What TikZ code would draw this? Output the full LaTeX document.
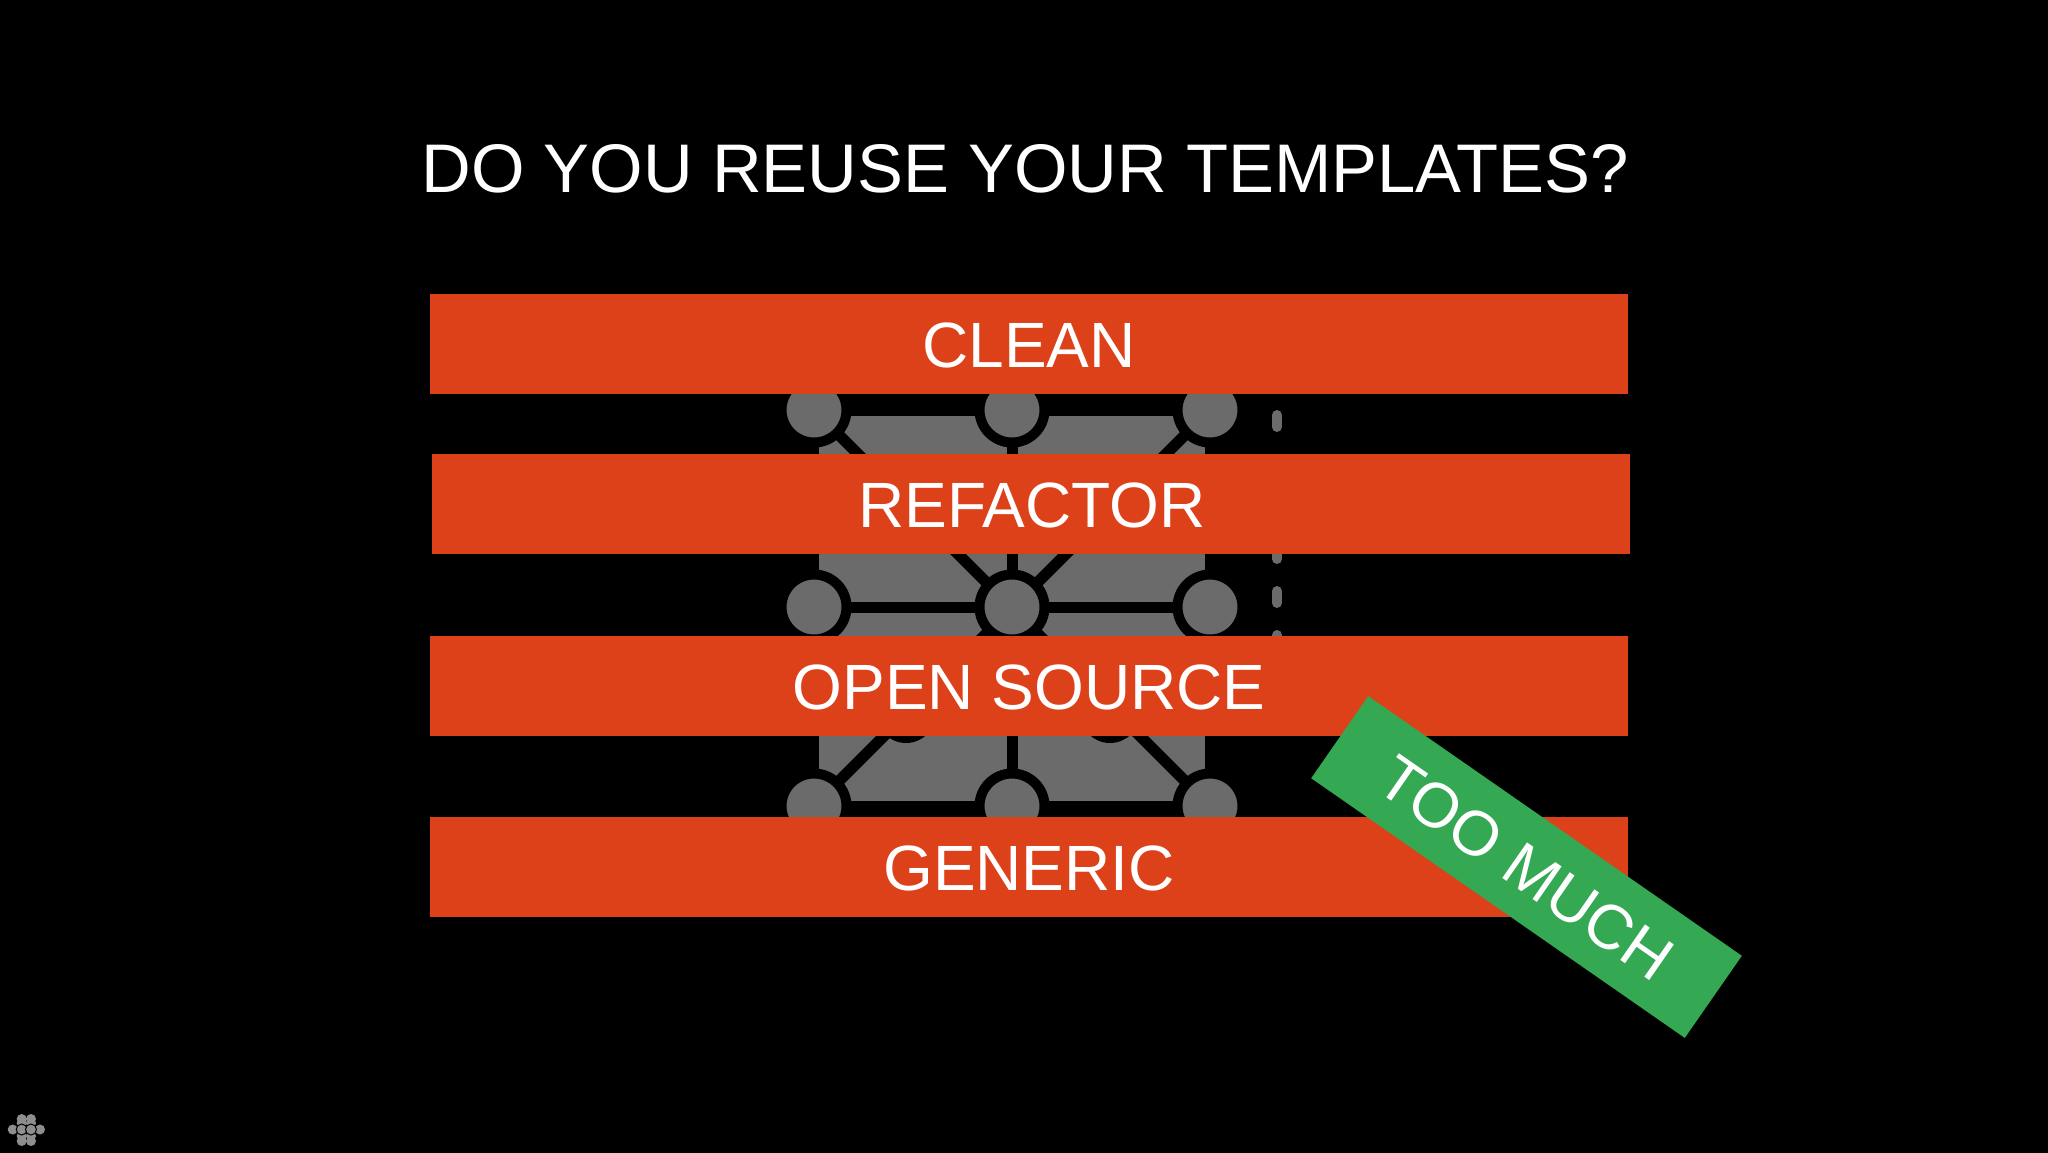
\documentclass[tikz,border=0pt]{standalone}
\usepackage{fontspec}
\setmainfont{Liberation Sans}
\definecolor{barred}{HTML}{DD4119}
\definecolor{okgreen}{HTML}{34A853}
\definecolor{netgray}{HTML}{6B6B6B}
\definecolor{logogray}{HTML}{8E8E8E}
\tikzset{
  barbox/.style={fill=barred,text=white,minimum width=1198pt,minimum height=100pt,inner sep=0pt,outer sep=0pt,text height=47pt,text depth=0pt,font=\fontsize{64}{70}\selectfont},
  netdot/.style={circle,fill=netgray,draw=black,line width=10pt,minimum size=65pt,inner sep=0pt,outer sep=0pt},
  hiddendot/.style={circle,fill=black,minimum size=60pt,inner sep=0pt,outer sep=0pt},
  netline/.style={draw=black,line width=11pt},
  dashmark/.style={draw=netgray,line width=10pt,line cap=round},
  logodot/.style={circle,fill=logogray,minimum size=10pt,inner sep=0pt,outer sep=0pt},
  logocore/.style={logodot,draw=black,line width=1pt,minimum size=11pt}
}
\begin{document}
\begin{tikzpicture}[x=1pt,y=-1pt]
\useasboundingbox (0,0) rectangle (2048,1152);
\fill[black] (-6,-6) rectangle (2054,1158);
% network icon behind the bars
\fill[netgray] (819,410) rectangle (1205,806);
\coordinate (tl) at (814,410); \coordinate (tm) at (1012,410); \coordinate (tr) at (1210,410);
\coordinate (ml) at (814,607); \coordinate (mm) at (1012,607); \coordinate (mr) at (1210,607);
\coordinate (bl) at (814,806); \coordinate (bm) at (1012,806); \coordinate (br) at (1210,806);
\draw[netline] (tl) -- (tr);
\draw[netline] (ml) -- (mr);
\draw[netline] (bl) -- (br);
\draw[netline] (tm) -- (bm);
\draw[netline] (tl) -- (br);
\draw[netline] (tr) -- (bl);
\node[hiddendot] (h1) at (906,713) {};
\node[hiddendot] (h2) at (1110,713) {};
\foreach \n in {tl,tm,tr,ml,mm,mr,bl,bm,br} \node[netdot] (d\n) at (\n) {};
% dashed rail
\foreach \k [count=\i] in {0,1,2,3,4,5} {
  \coordinate (da\i) at (1277,{415+44*\k});
  \coordinate (db\i) at (1277,{427+44*\k});
  \draw[dashmark] (da\i) -- (db\i);
}
% bars
\node[barbox] (clean) at (1029,344) {CLEAN};
\node[barbox] (refactor) at (1031,504) {\hspace*{2pt}REFACTOR};
\node[barbox] (opensource) at (1029,686) {OPEN SOURCE};
\node[barbox] (generic) at (1029,867) {GENERIC};
% title
\node[text=white,inner sep=0pt,anchor=base,font=\fontsize{68.8}{80}\selectfont] (title) at (1025,192) {DO YOU REUSE YOUR TEMPLATES?};
% green sticker
\node[fill=okgreen,text=white,rotate=-34.8,minimum width=455pt,minimum height=100pt,inner sep=0pt,outer sep=0pt,text height=46pt,text depth=0pt,font=\fontsize{63}{70}\selectfont] (much) at (1526.5,867) {TOO MUCH};
% logo
\foreach \nm/\px/\py in {a/21.7/1119,b/31/1119,c/21.7/1123,d/31/1123,e/21.7/1136,f/31/1136,g/21.7/1141,h/31/1141,i/12.7/1129.5,j/40/1129.5}
  \node[logodot] (lg\nm) at (\px,\py) {};
\node[logocore] (lgk) at (21.7,1129.5) {};
\node[logocore] (lgl) at (31,1129.5) {};
\end{tikzpicture}
\end{document}
